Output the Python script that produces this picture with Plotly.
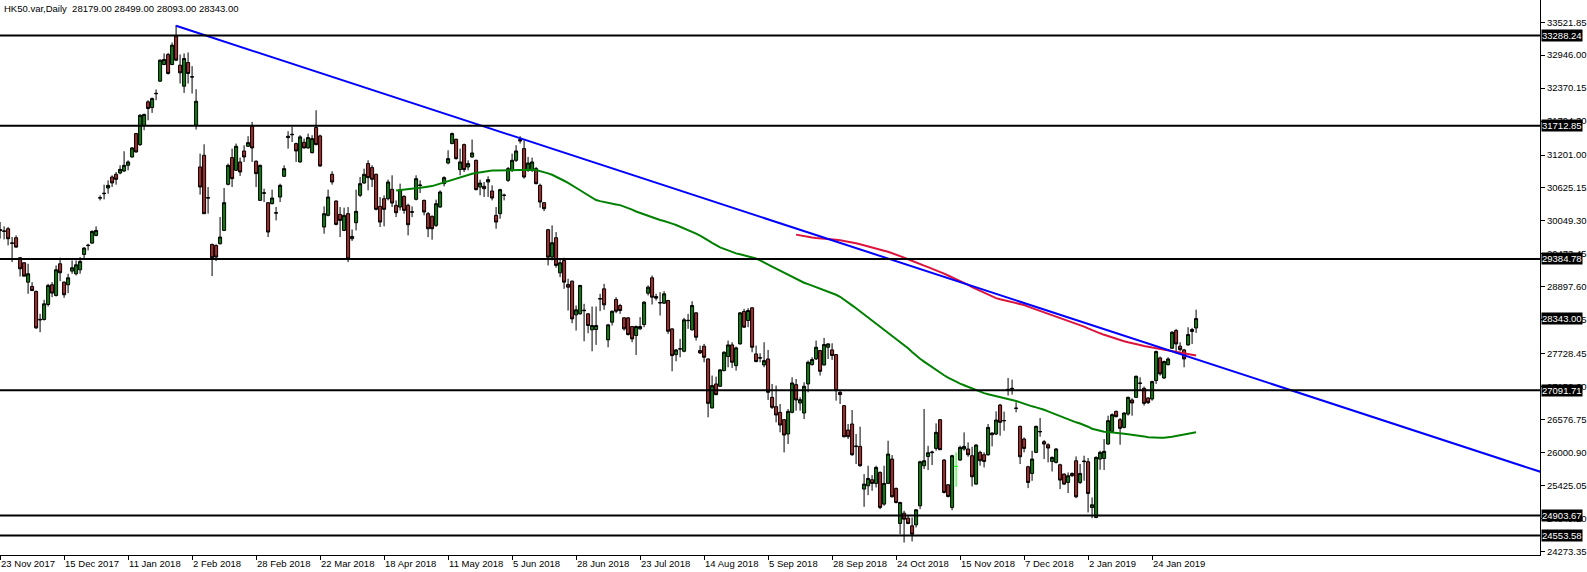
import plotly.graph_objects as go
import pandas as pd

# ---------------- data ----------------
opens = [
    29900, 29875, 29913, 29665, 29756, 29406, 29318, 28980, 28904, 28817,
    28330, 28327, 28589, 28934, 28747, 29301, 28980, 28934, 29173, 29126,
    29196, 29464, 29618, 29662, 29797, 30448, 30525, 30625, 30817, 30864,
    30887, 30922, 31021, 31167, 31576, 31383, 31716, 32130, 32030, 32272,
    32492, 32783, 32958, 32783, 33279, 32771, 32404, 32818, 32570, 31721,
    30993, 31197, 30448, 29639, 29622, 29651, 29884, 30689, 31156, 30934,
    31080, 31272, 31354, 31704, 31092, 30409, 30533, 30368, 30351, 30185,
    30467, 30829, 31529, 31555, 31401, 31080, 31424, 31325, 31243, 31681,
    31535, 29943, 30147, 30864, 30397, 30164, 29884, 30176, 29738, 30018,
    30497, 30712, 31051, 30981, 30864, 30304, 30438, 30438, 30602, 30322,
    30292, 30479, 30322, 30200, 30427, 30668, 30409, 30176, 30129, 29972,
    30292, 30701, 31062, 31401, 31476, 30946, 31383, 30992, 31167, 31109,
    30642, 30654, 30730, 30572, 30147, 30176, 30494, 30759, 30934, 31109,
    31471, 31313, 30934, 30934, 30963, 30672, 30368, 29896, 29417, 29756,
    29143, 29359, 28939, 28997, 28408, 28426, 28480, 28426, 28146, 28152,
    28684, 28863, 27971, 28280, 28676, 28571, 28356, 28356, 28204, 28047,
    28164, 28239, 28787, 29055, 28729, 28615, 28612, 28659, 28163, 27714,
    27810, 27772, 28305, 28146, 28443, 27784, 27860, 27638, 26781, 27201,
    27160, 27434, 27679, 27883, 27521, 27901, 28467, 28309, 28531, 27726,
    27652, 27533, 27638, 26967, 26804, 26705, 26577, 26326, 26705, 27189,
    26868, 26693, 27201, 27539, 27638, 27784, 27533, 27842, 27796, 27714,
    27055, 26822, 26396, 26501, 26106, 26110, 25364, 25422, 25527, 25463,
    25655, 25101, 25463, 25888, 25375, 24762, 24943, 24856, 24722, 24739,
    25072, 25772, 25934, 26000, 26075, 26576, 25871, 25439, 25043, 25760,
    25871, 26064, 26064, 25947, 25451, 26005, 25964, 25964, 26343, 26326,
    26833, 26555, 27098, 27125, 26772, 26460, 26238, 25754, 25637, 26005,
    26362, 26192, 26139, 25847, 25830, 25789, 25626, 25480, 25637, 25859,
    25480, 25843, 25842, 25042, 24868, 25888, 25899, 26151, 26372, 26722,
    26577, 26442, 26676, 26921, 26967, 27208, 27125, 26956, 26938, 27259,
    27656, 27306, 27539, 27825, 28134, 27860, 27796, 27883, 28117, 28179,
]
highs = [
    30030, 29955, 29943, 29768, 29797, 29418, 29330, 29301, 28980, 28834,
    28426, 28671, 28951, 28980, 29272, 29406, 28992, 29126, 29359, 29359,
    29418, 29593, 29651, 29884, 29955, 30496, 30683, 30759, 30846, 30905,
    31021, 31267, 31109, 31342, 31588, 31914, 31926, 32159, 32206, 32346,
    32871, 32976, 32987, 33168, 33471, 32958, 32976, 32993, 32754, 32351,
    31226, 31389, 30642, 29651, 29639, 30117, 30625, 31051, 31313, 31401,
    31156, 31372, 31529, 31780, 31109, 31033, 30613, 30380, 30596, 30293,
    30700, 31021, 31617, 31692, 31418, 31547, 31488, 31576, 31547, 31984,
    31558, 30304, 30596, 30917, 30409, 30292, 30281, 30292, 29900, 30596,
    30817, 30963, 31109, 31022, 30876, 30467, 30497, 30771, 30847, 30409,
    30701, 30497, 30351, 30304, 30847, 30759, 30421, 30205, 30147, 30421,
    30584, 30829, 31284, 31593, 31488, 31313, 31401, 31109, 31471, 31121,
    30771, 30730, 30829, 30672, 30292, 30613, 30526, 30992, 31226, 31372,
    31529, 31459, 31167, 31156, 30992, 30701, 30380, 29910, 29972, 29855,
    29388, 29406, 29038, 29009, 28572, 28933, 28601, 28437, 28554, 28554,
    28776, 28951, 28251, 28484, 28717, 28601, 28368, 28368, 28210, 28222,
    28368, 28647, 28922, 29096, 28776, 28805, 28822, 28671, 28175, 27813,
    27988, 28356, 28426, 28647, 28455, 27871, 27901, 27650, 27347, 27329,
    27463, 27772, 27959, 27930, 27854, 28455, 28513, 28525, 28542, 27871,
    27737, 27930, 27795, 27201, 27172, 26851, 26588, 26763, 27317, 27288,
    26968, 27230, 27609, 27667, 27959, 27796, 28006, 27912, 27912, 27726,
    27084, 26833, 26501, 26746, 26326, 26454, 25626, 25772, 25608, 25772,
    25672, 25772, 26209, 25958, 25392, 25142, 24984, 24897, 24868, 25013,
    25859, 26763, 26121, 26034, 26512, 26588, 25888, 25451, 25964, 26005,
    26122, 26355, 26180, 26104, 26151, 26034, 26005, 26501, 26355, 26722,
    26851, 26717, 27306, 27277, 26880, 26472, 26267, 25772, 26034, 26472,
    26605, 26221, 26163, 25935, 26081, 25807, 25637, 25655, 25655, 25935,
    25801, 25947, 25906, 25218, 25935, 26034, 26238, 26646, 26687, 26734,
    26606, 26705, 26979, 26950, 27347, 27317, 27154, 26967, 27259, 27784,
    27679, 27609, 27667, 28122, 28163, 27929, 27813, 28192, 28181, 28499,
]
lows = [
    29740, 29727, 29622, 29330, 29580, 29079, 29080, 28776, 28822, 28163,
    28105, 28309, 28554, 28718, 28729, 28998, 28706, 28788, 29126, 29097,
    29126, 29388, 29535, 29651, 29780, 30409, 30426, 30525, 30642, 30683,
    30864, 30905, 30934, 31156, 31243, 31360, 31634, 31809, 31937, 32159,
    32480, 32771, 32608, 32771, 32841, 32451, 32287, 32451, 32276, 31646,
    30508, 30170, 30176, 29085, 29348, 29639, 29872, 30671, 30642, 30922,
    30835, 31080, 31342, 31080, 30642, 30397, 30380, 29768, 30339, 30059,
    30380, 30817, 31313, 31430, 31080, 31068, 31313, 31313, 31226, 31372,
    30993, 29826, 30129, 30683, 29972, 29767, 29872, 29330, 29700, 29884,
    30467, 30701, 30584, 30642, 30234, 29943, 29954, 30409, 30292, 30117,
    30234, 30176, 29797, 30117, 30409, 30537, 30147, 29767, 29721, 29943,
    30281, 30654, 31039, 31389, 31121, 30847, 30905, 30934, 31156, 30584,
    30497, 30467, 30467, 30409, 29913, 30088, 30409, 30730, 30905, 31080,
    31401, 30788, 30905, 30905, 30689, 30281, 30222, 29272, 29359, 29231,
    29067, 28863, 28484, 28262, 28134, 28414, 27947, 28087, 27772, 27883,
    28473, 28496, 27842, 28222, 28437, 28426, 28134, 28047, 27930, 27708,
    28146, 28192, 28747, 28589, 28659, 28397, 28601, 28076, 27422, 27597,
    27667, 27755, 28163, 28134, 27959, 27725, 27580, 26618, 26775, 27005,
    27154, 27422, 27492, 27481, 27434, 27889, 28181, 28193, 27754, 27580,
    27580, 27492, 26921, 26763, 26530, 26355, 26005, 26151, 26687, 26734,
    26734, 26588, 27055, 27522, 27621, 27347, 27522, 27638, 27621, 26909,
    26851, 26267, 26238, 25946, 25801, 25754, 25054, 25258, 25334, 25392,
    25013, 25072, 25451, 25218, 25113, 24576, 24430, 24751, 24448, 24693,
    25013, 25713, 25696, 25783, 26034, 26046, 25288, 25218, 24996, 25404,
    25859, 26034, 25929, 25410, 25439, 25772, 25742, 25946, 26110, 26308,
    26297, 26384, 26997, 27014, 26705, 25801, 26005, 25381, 25509, 25993,
    26279, 25888, 25830, 25672, 25812, 25363, 25439, 25294, 25579, 25206,
    25451, 25509, 24955, 24855, 24855, 25702, 25696, 26139, 26355, 26617,
    26139, 26425, 26647, 26646, 26960, 27084, 26822, 26851, 26909, 27201,
    27347, 27288, 27522, 27813, 27737, 27772, 27492, 27871, 27900, 28093,
]
closes = [
    29880, 29868, 29738, 29660, 29592, 29213, 29085, 29126, 28834, 28181,
    28322, 28601, 28922, 28788, 29196, 29144, 28759, 29056, 29231, 29283,
    29342, 29575, 29624, 29867, 29884, 30455, 30532, 30671, 30713, 30776,
    30951, 31021, 31080, 31325, 31255, 31896, 31908, 32013, 32188, 32278,
    32859, 32871, 32626, 33121, 32859, 32637, 32888, 32626, 32564, 32141,
    30642, 30176, 30455, 29406, 29418, 29768, 30368, 31021, 30788, 31354,
    30905, 31167, 31418, 31325, 30876, 31021, 30540, 29855, 30450, 30192,
    30671, 30963, 31506, 31562, 31272, 31518, 31325, 31506, 31488, 31383,
    31010, 30176, 30467, 30730, 29989, 30059, 30147, 29388, 29779, 30217,
    30701, 30864, 30806, 30777, 30252, 30030, 30252, 30730, 30362, 30193,
    30596, 30234, 29983, 30210, 30788, 30676, 30205, 29913, 29913, 30351,
    30555, 30806, 31138, 31576, 31138, 31080, 30946, 31051, 31237, 30596,
    30712, 30613, 30771, 30450, 30030, 30596, 30500, 30963, 31109, 31272,
    31447, 30817, 31062, 31080, 30701, 30380, 30263, 29417, 29668, 29272,
    29318, 28980, 28892, 28338, 28496, 28922, 28488, 28222, 28222, 28222,
    28692, 28583, 28233, 28472, 28472, 28484, 28164, 28064, 27988, 28204,
    28204, 28630, 28892, 28717, 28700, 28622, 28776, 28122, 27696, 27795,
    27816, 28321, 28312, 28572, 28017, 27743, 27667, 26862, 27172, 27014,
    27446, 27755, 27883, 27580, 27831, 28443, 28193, 28484, 27842, 27592,
    27660, 27609, 27055, 26792, 26658, 26483, 26308, 26722, 27218, 26921,
    26926, 27160, 27580, 27627, 27842, 27422, 27889, 27901, 27697, 27084,
    27014, 26279, 26279, 25964, 26114, 25772, 25451, 25550, 25463, 25742,
    25043, 25463, 25976, 25229, 25130, 25130, 24838, 24762, 24576, 25002,
    25841, 25859, 25999, 26010, 26355, 26052, 25305, 25235, 25947, 25760,
    26093, 26110, 25964, 25579, 26133, 25859, 25847, 26442, 26314, 26571,
    26530, 26562, 27106, 27114, 26778, 25929, 26075, 25480, 25888, 26460,
    26370, 26151, 26081, 25917, 26064, 25521, 25451, 25597, 25597, 25229,
    25637, 25851, 25287, 25089, 25918, 26005, 26023, 26559, 26664, 26629,
    26425, 26693, 26967, 26868, 27335, 27216, 26862, 26874, 27242, 27767,
    27376, 27592, 27638, 28105, 27900, 27801, 27638, 28064, 28152, 28343,
]

symbol_title = "HK50.var,Daily"
date_labels = [
    "23 Nov 2017", "15 Dec 2017", "11 Jan 2018", "2 Feb 2018", "28 Feb 2018",
    "22 Mar 2018", "18 Apr 2018", "11 May 2018", "5 Jun 2018", "28 Jun 2018",
    "23 Jul 2018", "14 Aug 2018", "5 Sep 2018", "28 Sep 2018", "24 Oct 2018",
    "15 Nov 2018", "7 Dec 2018", "2 Jan 2019", "24 Jan 2019",
]
bars_per_label = 16

levels = [33288.24, 31712.85, 29384.78, 27091.71, 24903.67, 24553.58]
price_ticks = [33521.85, 32946.00, 32370.15, 31794.30, 31201.00, 30625.15,
               30049.30, 29473.45, 28897.60, 28321.75, 27728.45, 27152.60,
               26576.75, 26000.90, 25425.05, 24849.20, 24273.35]

trend_bars = [44, 130]
trend_prices = [33459, 31494]

ma_fast_period = 100
ma_slow_period = 200

# ---------------- styles ----------------
FONT = "Liberation Sans, Arial, sans-serif"
FS = 9.5
BULL = "#0b7d0b"
BEAR = "#a52a2a"
DOJI = "#00ff00"
X_RANGE = [-0.02, 384.98]
Y_RANGE = [24212, 33910]

# ---------------- build ----------------
n = len(closes)
bars = list(range(n))
hi = [max(h, o, c) for h, o, c in zip(highs, opens, closes)]
lo = [min(l, o, c) for l, o, c in zip(lows, opens, closes)]

fig = go.Figure()

normal = [i for i in bars if opens[i] != closes[i]]
doji = [i for i in bars if opens[i] == closes[i]]

fig.add_trace(go.Candlestick(
    x=normal,
    open=[opens[i] for i in normal], high=[hi[i] for i in normal],
    low=[lo[i] for i in normal], close=[closes[i] for i in normal],
    increasing=dict(line=dict(color="black", width=1), fillcolor=BULL),
    decreasing=dict(line=dict(color="black", width=1), fillcolor=BEAR),
    whiskerwidth=0, showlegend=False, hoverinfo="skip",
))
if doji:
    fig.add_trace(go.Candlestick(
        x=doji,
        open=[opens[i] for i in doji], high=[hi[i] for i in doji],
        low=[lo[i] for i in doji], close=[closes[i] for i in doji],
        increasing=dict(line=dict(color=DOJI, width=1), fillcolor=DOJI),
        decreasing=dict(line=dict(color=DOJI, width=1), fillcolor=DOJI),
        whiskerwidth=0, showlegend=False, hoverinfo="skip",
    ))

cs = pd.Series(closes, dtype=float)
ma_fast = cs.rolling(ma_fast_period).mean()
ma_slow = cs.rolling(ma_slow_period).mean()
fig.add_trace(go.Scatter(x=bars, y=ma_fast, mode="lines",
                         line=dict(color="#008000", width=2),
                         showlegend=False, hoverinfo="skip"))
fig.add_trace(go.Scatter(x=bars, y=ma_slow, mode="lines",
                         line=dict(color="#dc143c", width=2),
                         showlegend=False, hoverinfo="skip"))

slope = (trend_prices[1] - trend_prices[0]) / (trend_bars[1] - trend_bars[0])
x_end = X_RANGE[1] + 1
fig.add_trace(go.Scatter(
    x=[trend_bars[0], x_end],
    y=[trend_prices[0], trend_prices[0] + slope * (x_end - trend_bars[0])],
    mode="lines", line=dict(color="#0000ff", width=2),
    showlegend=False, hoverinfo="skip", cliponaxis=True,
))

for lv in levels:
    fig.add_shape(type="line", xref="paper", x0=0, x1=1, yref="y", y0=lv, y1=lv,
                  line=dict(color="black", width=2), layer="above")

box_values = levels + [closes[-1]]
for v in box_values:
    fig.add_annotation(xref="paper", x=1, yref="y", y=v, xanchor="left",
                       yanchor="middle", xshift=1, text=f"{v:.2f}",
                       showarrow=False, bgcolor="black", borderpad=0,
                       font=dict(family=FONT, size=FS, color="white"))

header = (f"{symbol_title}\u00a0\u00a0{opens[-1]:.2f} {hi[-1]:.2f} "
          f"{lo[-1]:.2f} {closes[-1]:.2f}")
fig.add_annotation(xref="paper", yref="paper", x=0, y=1, xanchor="left",
                   yanchor="top", xshift=2, yshift=-1, text=header,
                   showarrow=False, font=dict(family=FONT, size=FS, color="black"))

tickvals_x = [i * bars_per_label for i in range(len(date_labels))]

fig.update_layout(
    width=1587, height=572,
    margin=dict(l=0, r=47, t=0, b=17),
    paper_bgcolor="white", plot_bgcolor="white",
    boxgap=0.15, boxgroupgap=0.1,
    showlegend=False,
    font=dict(family=FONT, size=FS, color="black"),
    xaxis=dict(
        range=X_RANGE, rangeslider=dict(visible=False),
        tickmode="array", tickvals=tickvals_x, ticktext=date_labels,
        ticks="outside", ticklen=4, tickcolor="black", tickwidth=1,
        ticklabelposition="outside right",
        showgrid=False, zeroline=False, showline=True, linecolor="black",
        linewidth=1, automargin=False,
        tickfont=dict(family=FONT, size=FS, color="black"),
    ),
    yaxis=dict(
        side="right", range=Y_RANGE,
        tickmode="array", tickvals=price_ticks,
        ticktext=[f"{v:.2f}" for v in price_ticks],
        ticks="outside", ticklen=4, tickcolor="black", tickwidth=1,
        showgrid=False, zeroline=False, showline=True, linecolor="black",
        linewidth=1, automargin=False,
        tickfont=dict(family=FONT, size=FS, color="black"),
    ),
)

fig.write_html(
    "out.html",
    config={"displayModeBar": False},
    post_script="document.body.style.margin='0';document.body.style.overflow='hidden';",
)
